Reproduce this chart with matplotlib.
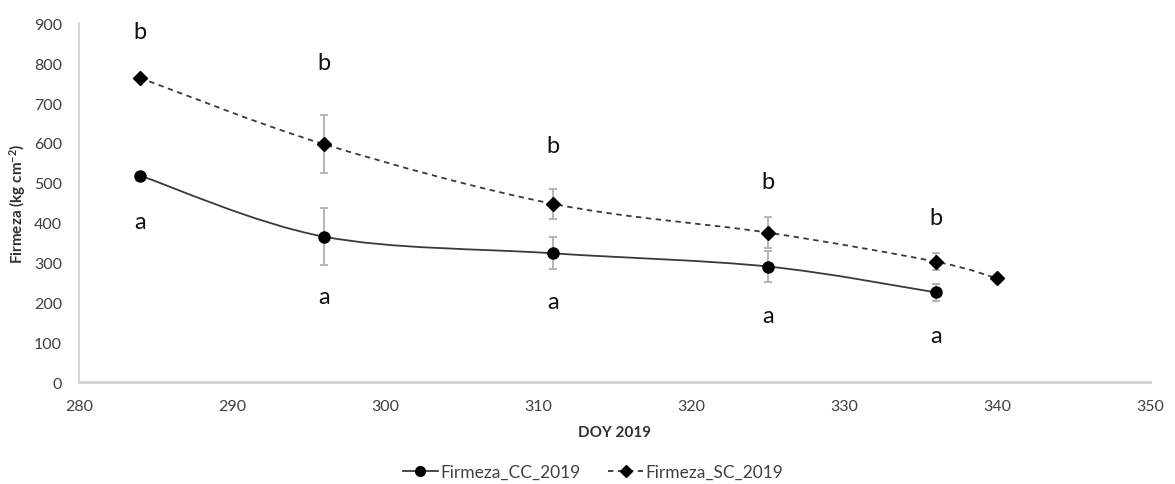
import numpy as np
import matplotlib.pyplot as plt
from matplotlib.path import Path
from matplotlib.patches import PathPatch
from matplotlib.lines import Line2D

plt.rcParams['font.family'] = ['Lato', 'DejaVu Sans']
plt.rcParams['mathtext.fontset'] = 'custom'
plt.rcParams['mathtext.rm'] = 'Lato:bold'
plt.rcParams['mathtext.default'] = 'rm'

doy_cc = [284, 296, 311, 325, 336]
firmeza_cc = [518, 365, 323, 290, 225]
err_cc = [0, 72, 40, 38, 22]

doy_sc = [284, 296, 311, 325, 336, 340]
firmeza_sc = [763, 597, 447, 375, 302, 260]
err_sc = [0, 72, 37, 38, 22, 0]

# significance letters
letter_x = [284, 296, 311, 325, 336]
letter_b_y = [880, 802, 594, 504, 413]
letter_a_y = [403, 215, 203, 168, 118]


def smooth_path(x, y):
    # Excel-style smoothed line, built as cubic Bezier segments
    x = np.asarray(x, float)
    y = np.asarray(y, float)
    n = len(x)
    verts = [(x[0], y[0])]
    codes = [Path.MOVETO]
    for i in range(n - 1):
        x0, y0 = (x[i - 1], y[i - 1]) if i > 0 else (x[i], y[i])
        x3, y3 = (x[i + 2], y[i + 2]) if i + 2 < n else (x[i + 1], y[i + 1])
        c1 = (x[i] + (x[i + 1] - x0) / 6, y[i] + (y[i + 1] - y0) / 6)
        c2 = (x[i + 1] - (x3 - x[i]) / 6, y[i + 1] - (y3 - y[i]) / 6)
        verts += [c1, c2, (x[i + 1], y[i + 1])]
        codes += [Path.CURVE4] * 3
    return Path(verts, codes)


fig = plt.figure(figsize=(11.75, 4.85), dpi=100)
ax = fig.add_axes([0.067, 0.21, 0.912, 0.74])

ax.add_patch(PathPatch(smooth_path(doy_cc, firmeza_cc), fill=False,
                       edgecolor='#3a3a3a', lw=1.3))
ax.add_patch(PathPatch(smooth_path(doy_sc, firmeza_sc), fill=False,
                       edgecolor='#3a3a3a', lw=1.3, linestyle=(0, (3, 2.5))))

ax.errorbar(doy_cc, firmeza_cc, yerr=err_cc, fmt='none', ecolor='#b0b0b0',
            elinewidth=1.3, capsize=3, capthick=1.3, zorder=2)
ax.errorbar(doy_sc, firmeza_sc, yerr=err_sc, fmt='none', ecolor='#b0b0b0',
            elinewidth=1.3, capsize=3, capthick=1.3, zorder=2)
ax.plot(doy_cc, firmeza_cc, 'o', color='black', ms=8, zorder=3)
ax.plot(doy_sc, firmeza_sc, 'D', color='black', ms=7, zorder=3)

for x, yb, ya in zip(letter_x, letter_b_y, letter_a_y):
    ax.text(x, yb, 'b', ha='center', va='center', fontsize=17, color='#111111')
    ax.text(x, ya, 'a', ha='center', va='center', fontsize=17, color='#111111')

ax.set_xlim(280, 350)
ax.set_ylim(0, 900)
ax.set_xticks(range(280, 351, 10))
ax.set_yticks(range(0, 901, 100))
ax.tick_params(length=0, labelsize=11.5, colors='#404040', pad=12)
for s in ['top', 'right']:
    ax.spines[s].set_visible(False)
ax.spines['left'].set_color('#d0d0d0')
ax.spines['bottom'].set_color('#d0d0d0')
ax.spines['left'].set_linewidth(1.2)
ax.spines['bottom'].set_linewidth(2)

ax.set_xlabel('DOY 2019', fontsize=11, fontweight='bold', color='#303030', labelpad=9)
ax.set_ylabel('Firmeza (kg cm$^{-2}$)', fontsize=11, fontweight='bold', color='#303030',
              labelpad=4)

handles = [
    Line2D([], [], color='#3a3a3a', lw=1.3, marker='o', ms=7, mfc='black', mec='black'),
    Line2D([], [], color='#3a3a3a', lw=1.3, ls=(0, (3, 2.5)), marker='D', ms=6,
           mfc='black', mec='black'),
]
fig.legend(handles, ['Firmeza_CC_2019', 'Firmeza_SC_2019'], loc='center',
           bbox_to_anchor=(0.505, 0.025), ncol=2, frameon=False, fontsize=12.5,
           handlelength=2.0, handletextpad=0.15, columnspacing=1.6,
           labelcolor='#404040', borderpad=0)

fig.savefig('out.png', dpi=100, facecolor='white')
